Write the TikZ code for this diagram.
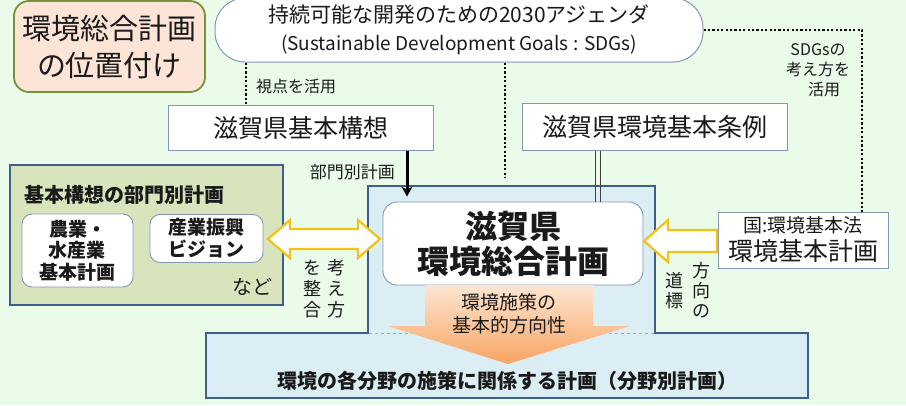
\documentclass[tikz,border=0pt]{standalone}
\usepackage{fontspec}
\setmainfont{Noto Sans CJK JP}
\usetikzlibrary{calc,arrows.meta}
\definecolor{bg}{HTML}{EBFBEA}
\definecolor{peach}{HTML}{FCE4D6}
\definecolor{olive}{HTML}{76923C}
\definecolor{boxc}{HTML}{8497B0}
\definecolor{bluefill}{HTML}{DBEEF4}
\definecolor{blueline}{HTML}{3E5F8A}
\definecolor{greenfill}{HTML}{D8E4BC}
\definecolor{gold}{HTML}{F2C214}
\definecolor{orangeA}{HTML}{FDE6D2}
\definecolor{orangeB}{HTML}{F8A462}
\definecolor{txt}{HTML}{1A1A1A}
\newcommand\fsz[2]{\fontsize{#1}{#2}\selectfont}
\begin{document}
\begin{tikzpicture}[x=1pt,y=-1pt,
  every node/.style={text=txt},
  wbox/.style={draw=boxc, line width=0.9pt, fill=white, inner sep=0pt, align=center},
  lbl/.style={inner sep=0pt, align=center},
  dotline/.style={draw=black, line width=2.3pt, dash pattern=on 2.2pt off 2.2pt},
  yarrow/.style={draw=gold, line width=2.2pt, fill=white, line join=miter}]
\useasboundingbox[fill=bg] (0,0) rectangle (906,405);

% title
\node[wbox, draw=olive, line width=1.8pt, fill=peach, rounded corners=15pt,
  minimum width=191pt, minimum height=91pt, font=\fsz{29}{37}] (title) at (109.5,46.5)
  {環境総合計画\\の位置付け};

% SDGs
\node[wbox, draw=boxc, line width=1pt, rounded corners=30pt,
  minimum width=488pt, minimum height=64pt, font=\fsz{21}{28}] (sdg) at (459,30)
  {持続可能な開発のための2030アジェンダ\\{\fsz{19}{28}(Sustainable Development Goals : SDGs)}};

% upper boxes
\node[wbox, minimum width=265pt, minimum height=45pt, font=\fsz{25}{30}] (kihon) at (300.5,128) {滋賀県基本構想};
\node[wbox, minimum width=265pt, minimum height=47pt, font=\fsz{25}{30}] (jorei) at (654.5,127) {滋賀県環境基本条例};

% blue merged shape
\fill[bluefill] (368,186) -- (655,186) -- (655,333) -- (808,333) -- (808,398)
  -- (206,398) -- (206,333) -- (368,333) -- cycle;
\draw[blueline, line width=1.8pt, line join=miter] (368,186) -- (655,186) -- (655,333) -- (808,333) -- (808,398)
  -- (206,398) -- (206,333) -- (368,333) -- cycle;
\draw[boxc!80, line width=0.6pt, dashed] (369,333) -- (654,333);
\coordinate (bluetop) at (505,186);

% white centre
\node[wbox, rounded corners=14pt, minimum width=260pt, minimum height=83pt,
  font=\bfseries\fsz{32}{35}] (shiga) at (513,243.5) {滋賀県\\環境総合計画};

% orange arrow
\shade[top color=orangeA, bottom color=orangeB]
  (425,285) -- (593,285) -- (593,326) -- (630,326) -- (508,364) -- (388,326) -- (425,326) -- cycle;
\node[lbl, font=\fsz{19}{23}] (hoko) at (509,314) {環境施策の\\基本的方向性};

% bottom text
\node[lbl, font=\bfseries\fsz{20}{24}] (bunya) at (507,381) {環境の各分野の施策に関係する計画（分野別計画）};

% left green box
\node[draw=blueline, line width=1.8pt, fill=greenfill, minimum width=273pt, minimum height=140pt, inner sep=0pt] (left) at (146.5,235) {};
\node[lbl, anchor=west, font=\bfseries\fsz{20}{24}] (lefttitle) at (24,195) {基本構想の部門別計画};
\node[wbox, rounded corners=10pt, minimum width=111pt, minimum height=73pt, font=\bfseries\fsz{19}{21.5}] (nogyo) at (77.5,250.5) {農業・\\水産業\\基本計画};
\node[wbox, rounded corners=10pt, minimum width=113pt, minimum height=48pt, font=\bfseries\fsz{19}{22}] (sangyo) at (206.5,238.5) {産業振興\\ビジョン};
\node[lbl, font=\fsz{20}{24}] (nado) at (252,287) {など};

% national box
\node[wbox, minimum width=170pt, minimum height=56pt, font=\fsz{25}{28}] (kuni) at (803,240)
  {{\fsz{19}{24}国:環境基本法}\\環境基本計画};

% yellow arrows
\draw[yarrow] (268,239) -- (290,220) -- (290,229) -- (358,229) -- (358,220) -- (380,239)
  -- (358,258) -- (358,249) -- (290,249) -- (290,258) -- cycle;
\draw[yarrow] (644,241) -- (668,220) -- (668,230) -- (717,230) -- (717,252) -- (668,252) -- (668,262) -- cycle;

% vertical labels
\node[lbl, font=\fsz{18}{21}] (kangae) at (336,289) {考\\え\\方};
\node[lbl, font=\fsz{18}{21}] (seigo) at (312,289) {を\\整\\合};
\node[lbl, font=\fsz{18}{20}] (hokono) at (701,290) {方\\向\\の};
\node[lbl, font=\fsz{18}{20}] (dohyo) at (674,291) {道\\標};

% connectors
\coordinate (c1) at (246,0);
\coordinate (c3) at (862,0);
\coordinate (c4) at (407,0);
\coordinate (c5a) at (595.5,0);
\coordinate (c5b) at (600.5,0);
\draw[dotline] (sdg.south -| c1) -- (kihon.north -| c1);
\node[lbl, anchor=west, font=\fsz{16}{20}] (shiten) at (256,86) {視点を活用};
\draw[dotline, shorten >=8pt] (sdg.south -| bluetop) -- (bluetop);
\draw[dotline] (sdg.east) -| (c3 |- kuni.north);
\node[lbl, font=\fsz{16}{20}] (sdgnote) at (818,70) {SDGsの\\考え方を\\\hspace*{12pt}活用};
\draw[line width=3pt, -{Stealth[length=10pt,width=11pt]}, shorten >=5pt] (kihon.south -| c4) -- (shiga.north -| c4);
\node[lbl, anchor=east, font=\fsz{17}{20}] (bumon) at (395,172) {部門別計画};
\draw[line width=0.9pt, draw=black!75] (jorei.south -| c5a) -- (shiga.north -| c5a);
\draw[line width=0.9pt, draw=black!75] (jorei.south -| c5b) -- (shiga.north -| c5b);
\end{tikzpicture}
\end{document}
